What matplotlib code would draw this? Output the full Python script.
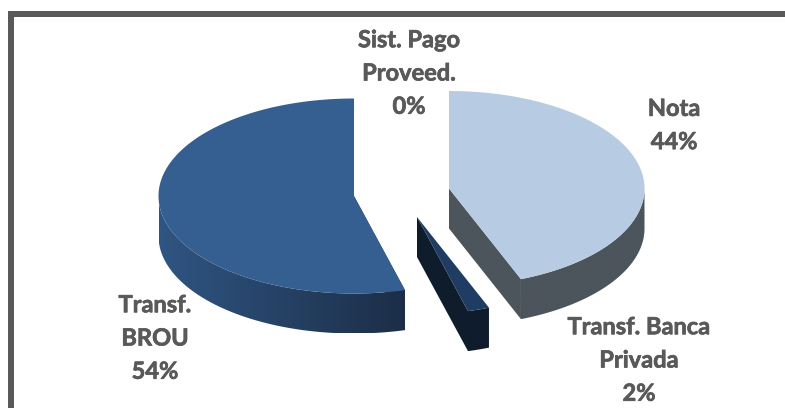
import numpy as np
import matplotlib
matplotlib.use('Agg')
import matplotlib.pyplot as plt
import matplotlib.patheffects as pe
from matplotlib.patches import Polygon, Rectangle

labels = ['Nota\n44%', 'Transf. Banca\nPrivada\n2%', 'Sist. Pago\nProveed.\n0%', 'Transf.\nBROU\n54%']
values = [44.0, 1.8, 0, 54.2]
top_colors = ['#b7cce3', '#1f3d63', '#2f5687', '#355f91']
side_left = ['#4c545c', '#0f1c2c', '#0f1c2c', '#2f5582']
side_right = ['#4c545c', '#0f1c2c', '#0f1c2c', '#1c2e47']
# exploded centre of each slice, in pixels
centers = [(449, 188.5), (417, 217), (417, 217), (354, 196)]
label_pos = [(674, 125), (639, 360), (409, 73), (155, 338)]

RX, RY, DEPTH = 195.5, 97.5, 40

plt.rcParams['font.family'] = ['Lato', 'DejaVu Sans']
fig = plt.figure(figsize=(7.85, 4.08), dpi=100)
ax = fig.add_axes([0, 0, 1, 1])
ax.set_xlim(0, 785)
ax.set_ylim(408, 0)
ax.axis('off')

# frame, only left and top are visible
ax.add_patch(Rectangle((8, 11), 5.5, 397, color='#595959', lw=0))
ax.add_patch(Rectangle((8, 11), 777, 5.5, color='#595959', lw=0))


def arc(c, a0, a1):
    t = np.linspace(a0, a1, 200)
    return np.column_stack([c[0] + RX * np.sin(t), c[1] - RY * np.cos(t)])


def gradient_wall(pts, c0, c1, zorder):
    poly = Polygon(pts, closed=True, fc='none', ec='none')
    ax.add_patch(poly)
    x0, x1 = pts[:, 0].min(), pts[:, 0].max()
    y0, y1 = pts[:, 1].min(), pts[:, 1].max()
    cmap = matplotlib.colors.LinearSegmentedColormap.from_list('w', [c0, c1])
    im = ax.imshow(np.linspace(0, 1, 256)[None, :], extent=[x0, x1, y1, y0], cmap=cmap,
                   aspect='auto', zorder=zorder)
    im.set_clip_path(poly)


ang = 0.0
total = sum(values)
for i in range(len(values)):
    a0 = ang
    a1 = ang + 2 * np.pi * values[i] / total
    ang = a1
    if values[i] == 0:
        continue
    c = np.array(centers[i], float)
    rim = arc(c, a0, a1)
    # outer wall, only the part facing the viewer
    vis = np.clip([a0, a1], np.pi / 2, 3 * np.pi / 2)
    front = arc(c, vis[0], vis[1])
    wall = np.vstack([front, (front + [0, DEPTH])[::-1]])
    gradient_wall(wall, side_left[i], side_right[i], 2)
    # cut walls seen from the front
    a = np.array([c[0] + RX * np.sin(a1), c[1] - RY * np.cos(a1)])
    b = np.array([c[0] + RX * np.sin(a0), c[1] - RY * np.cos(a0)])
    if i == 3:
        # right-hand cut of the big slice
        ax.add_patch(Polygon([b, b + [0, DEPTH], c + [0, DEPTH], c], fc=side_right[i], ec='none', zorder=1))
    if i == 1:
        # left-hand cut of the thin slice
        ax.add_patch(Polygon([c, c + [0, DEPTH], a + [0, DEPTH], a], fc=side_right[i], ec='none', zorder=3))
    if i == 0:
        ax.add_patch(Polygon([c, c + [0, DEPTH], b + [0, DEPTH], b], fc=side_right[i], ec='none', zorder=1))
        ax.add_patch(Polygon([c, c + [0, DEPTH], a + [0, DEPTH], a], fc=side_right[i], ec='none', zorder=1))
    ax.add_patch(Polygon(np.vstack([c, rim]), fc=top_colors[i], ec='none', zorder=4))

for t, p in zip(labels, label_pos):
    ax.text(p[0], p[1], t, ha='center', va='center', fontsize=17, fontweight='bold',
            color='#595959', linespacing=1.54, zorder=5,
            path_effects=[pe.withStroke(linewidth=0.5, foreground='#595959')])

ax.set_xlim(0, 785)
ax.set_ylim(408, 0)
fig.savefig('out.png', dpi=100)
